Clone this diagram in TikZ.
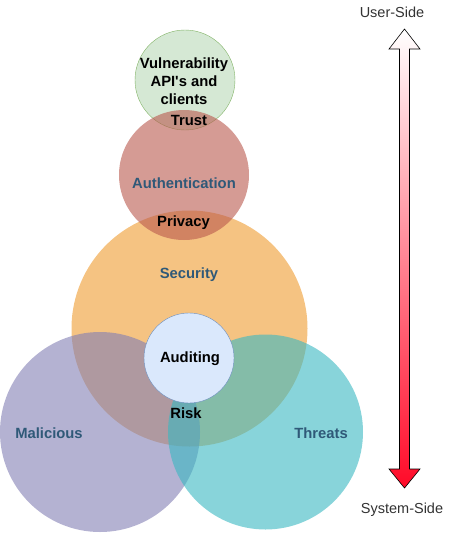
\documentclass[tikz,border=0pt]{standalone}
\usepackage{fontspec}
\setmainfont{Liberation Sans}[Ligatures=TeXOff]
\definecolor{cgreen}{RGB}{213,232,212}
\definecolor{cgreenline}{RGB}{130,179,102}
\definecolor{cpink}{RGB}{185,88,77}
\definecolor{corange}{RGB}{238,155,47}
\definecolor{cpurple}{RGB}{130,127,180}
\definecolor{cteal}{RGB}{57,183,193}
\definecolor{cblue}{RGB}{218,232,252}
\definecolor{cblueline}{RGB}{108,142,191}
\definecolor{ctext}{RGB}{47,89,120}
\definecolor{cgrey}{RGB}{51,51,51}
\definecolor{cred}{RGB}{255,10,40}
\begin{document}
\begin{tikzpicture}[x=1pt,y=-1pt,
  blob/.style={circle, inner sep=0pt, draw=none, fill opacity=0.6},
  lab/.style={font=\fontsize{14.8}{18}\selectfont\bfseries, align=center, inner sep=0pt},
  bluelab/.style={lab, text=ctext},
  side/.style={font=\fontsize{14.5}{17}\selectfont, text=cgrey, inner sep=0pt}]
\useasboundingbox (0,0) rectangle (453,533);
% circles
\node[blob, fill=corange, minimum size=236pt] (sec) at (189.5,328.5) {};
\node[circle, inner sep=0pt, draw=cgreenline, fill=cgreen, minimum size=100pt] (vul) at (185,80) {};
\node[blob, fill=cpink, minimum size=130pt] (auth) at (184,175) {};
\node[blob, fill=cpurple, minimum size=200pt] (mal) at (100,432) {};
\node[blob, fill=cteal, minimum size=195pt] (thr) at (265.5,432) {};
\node[circle, inner sep=0pt, draw=cblueline, fill=cblue, minimum size=90pt] (aud) at (189,358) {};
% labels
\node[lab] (tvul) at (184,81) {Vulnerability\\API's and\\clients};
\node[lab] (ttrust) at (189,120) {Trust};
\node[bluelab] (tauth) at (184,183) {Authentication};
\node[lab] (tpriv) at (183.5,223) {Privacy};
\node[bluelab] (tsec) at (189,275) {Security};
\node[lab] (taud) at (190,359) {Auditing};
\node[lab] (trisk) at (186,413) {Risk};
\node[bluelab] (tmal) at (49,433) {Malicious};
\node[bluelab] (tthr) at (321,433) {Threats};
% side arrow
\node[side] (user) at (392,12) {User-Side};
\node[side] (sys) at (402,510) {System-Side};
\coordinate (top) at (404.5,29);
\coordinate (bot) at (404.5,488);
\draw[black, line width=0.6pt, top color=white, bottom color=cred]
  (top) -- (420,49) -- (409.5,49) -- (409.5,469) -- (420,469) -- (bot)
  -- (389,469) -- (399.5,469) -- (399.5,49) -- (389,49) -- cycle;
\end{tikzpicture}
\end{document}
